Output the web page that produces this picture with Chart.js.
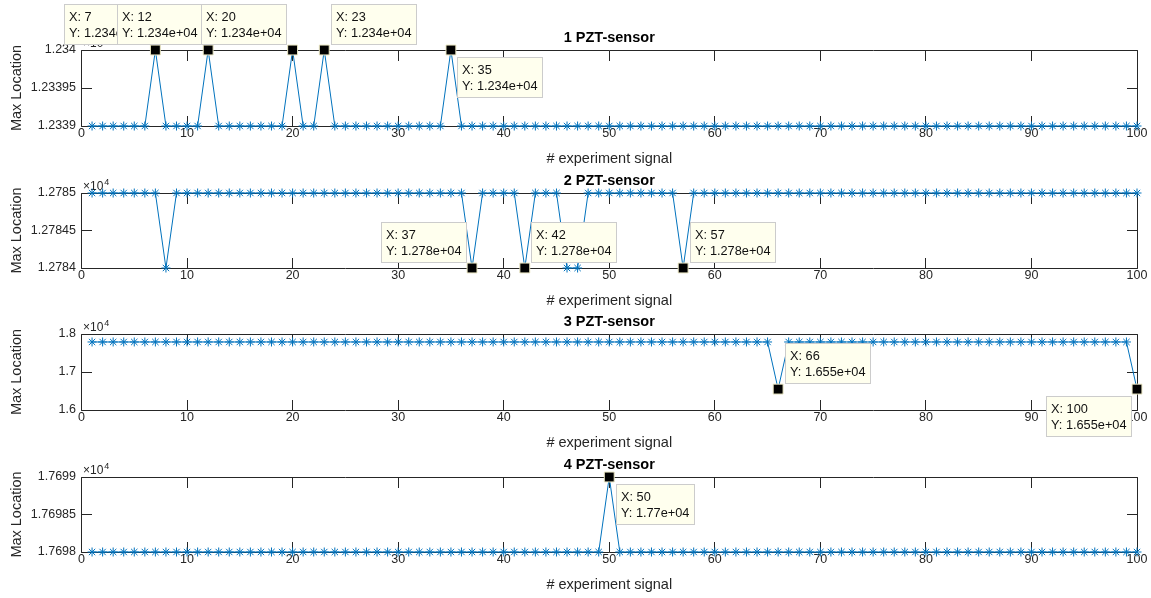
<!DOCTYPE html>
<html>
<head>
<meta charset="utf-8">
<title>PZT-sensor max location</title>
<script src="https://cdn.jsdelivr.net/npm/chart.js@4.4.1/dist/chart.umd.min.js"></script>
<style>
  html, body { margin: 0; padding: 0; background: #ffffff; }
  #fig { position: relative; width: 1151px; height: 598px; overflow: hidden; }
  #fig canvas { position: absolute; left: 0; top: 0; }
</style>
</head>
<body>
<div id="fig">
  <canvas id="s1" width="1151" height="598"></canvas>
  <canvas id="s2" width="1151" height="598"></canvas>
  <canvas id="s3" width="1151" height="598"></canvas>
  <canvas id="s4" width="1151" height="598"></canvas>
</div>
<script>
// ---- data -------------------------------------------------------------
const experiment = [
  1, 2, 3, 4, 5, 6, 7, 8, 9, 10,
  11, 12, 13, 14, 15, 16, 17, 18, 19, 20,
  21, 22, 23, 24, 25, 26, 27, 28, 29, 30,
  31, 32, 33, 34, 35, 36, 37, 38, 39, 40,
  41, 42, 43, 44, 45, 46, 47, 48, 49, 50,
  51, 52, 53, 54, 55, 56, 57, 58, 59, 60,
  61, 62, 63, 64, 65, 66, 67, 68, 69, 70,
  71, 72, 73, 74, 75, 76, 77, 78, 79, 80,
  81, 82, 83, 84, 85, 86, 87, 88, 89, 90,
  91, 92, 93, 94, 95, 96, 97, 98, 99, 100
];

const sensor1 = [
  12339, 12339, 12339, 12339, 12339, 12339, 12340, 12339, 12339, 12339,
  12339, 12340, 12339, 12339, 12339, 12339, 12339, 12339, 12339, 12340,
  12339, 12339, 12340, 12339, 12339, 12339, 12339, 12339, 12339, 12339,
  12339, 12339, 12339, 12339, 12340, 12339, 12339, 12339, 12339, 12339,
  12339, 12339, 12339, 12339, 12339, 12339, 12339, 12339, 12339, 12339,
  12339, 12339, 12339, 12339, 12339, 12339, 12339, 12339, 12339, 12339,
  12339, 12339, 12339, 12339, 12339, 12339, 12339, 12339, 12339, 12339,
  12339, 12339, 12339, 12339, 12339, 12339, 12339, 12339, 12339, 12339,
  12339, 12339, 12339, 12339, 12339, 12339, 12339, 12339, 12339, 12339,
  12339, 12339, 12339, 12339, 12339, 12339, 12339, 12339, 12339, 12339
];

const sensor2 = [
  12785, 12785, 12785, 12785, 12785, 12785, 12785, 12784, 12785, 12785,
  12785, 12785, 12785, 12785, 12785, 12785, 12785, 12785, 12785, 12785,
  12785, 12785, 12785, 12785, 12785, 12785, 12785, 12785, 12785, 12785,
  12785, 12785, 12785, 12785, 12785, 12785, 12784, 12785, 12785, 12785,
  12785, 12784, 12785, 12785, 12785, 12784, 12784, 12785, 12785, 12785,
  12785, 12785, 12785, 12785, 12785, 12785, 12784, 12785, 12785, 12785,
  12785, 12785, 12785, 12785, 12785, 12785, 12785, 12785, 12785, 12785,
  12785, 12785, 12785, 12785, 12785, 12785, 12785, 12785, 12785, 12785,
  12785, 12785, 12785, 12785, 12785, 12785, 12785, 12785, 12785, 12785,
  12785, 12785, 12785, 12785, 12785, 12785, 12785, 12785, 12785, 12785
];

const sensor3 = [
  17790, 17790, 17790, 17790, 17790, 17790, 17790, 17790, 17790, 17790,
  17790, 17790, 17790, 17790, 17790, 17790, 17790, 17790, 17790, 17790,
  17790, 17790, 17790, 17790, 17790, 17790, 17790, 17790, 17790, 17790,
  17790, 17790, 17790, 17790, 17790, 17790, 17790, 17790, 17790, 17790,
  17790, 17790, 17790, 17790, 17790, 17790, 17790, 17790, 17790, 17790,
  17790, 17790, 17790, 17790, 17790, 17790, 17790, 17790, 17790, 17790,
  17790, 17790, 17790, 17790, 17790, 16550, 17790, 17790, 17790, 17790,
  17790, 17790, 17790, 17790, 17790, 17790, 17790, 17790, 17790, 17790,
  17790, 17790, 17790, 17790, 17790, 17790, 17790, 17790, 17790, 17790,
  17790, 17790, 17790, 17790, 17790, 17790, 17790, 17790, 17790, 16550
];

const sensor4 = [
  17698, 17698, 17698, 17698, 17698, 17698, 17698, 17698, 17698, 17698,
  17698, 17698, 17698, 17698, 17698, 17698, 17698, 17698, 17698, 17698,
  17698, 17698, 17698, 17698, 17698, 17698, 17698, 17698, 17698, 17698,
  17698, 17698, 17698, 17698, 17698, 17698, 17698, 17698, 17698, 17698,
  17698, 17698, 17698, 17698, 17698, 17698, 17698, 17698, 17698, 17699,
  17698, 17698, 17698, 17698, 17698, 17698, 17698, 17698, 17698, 17698,
  17698, 17698, 17698, 17698, 17698, 17698, 17698, 17698, 17698, 17698,
  17698, 17698, 17698, 17698, 17698, 17698, 17698, 17698, 17698, 17698,
  17698, 17698, 17698, 17698, 17698, 17698, 17698, 17698, 17698, 17698,
  17698, 17698, 17698, 17698, 17698, 17698, 17698, 17698, 17698, 17698
];

const xTicks = [0, 10, 20, 30, 40, 50, 60, 70, 80, 90, 100];

const yTicks1 = [12339, 12339.5, 12340];
const yLabels1 = ['1.2339', '1.23395', '1.234'];
const yTicks2 = [12784, 12784.5, 12785];
const yLabels2 = ['1.2784', '1.27845', '1.2785'];
const yTicks3 = [16000, 17000, 18000];
const yLabels3 = ['1.6', '1.7', '1.8'];
const yTicks4 = [17698, 17698.5, 17699];
const yLabels4 = ['1.7698', '1.76985', '1.7699'];

const titles = ['1 PZT-sensor', '2 PZT-sensor', '3 PZT-sensor', '4 PZT-sensor'];
const xTitle = '# experiment signal';
const yTitle = 'Max Location';

// experiments marked with a data tip in each panel
const tips1 = [7, 12, 20, 23, 35];
const tips2 = [37, 42, 57];
const tips3 = [66, 100];
const tips4 = [50];

// which side of its marker each data tip box sits on
const tipSide1 = ['nw', 'nw', 'nw', 'ne', 'se'];
const tipSide2 = ['nw', 'ne', 'ne'];
const tipSide3 = ['ne', 'sw'];
const tipSide4 = ['se'];

// ---- styling ----------------------------------------------------------
const FONT = "'Liberation Sans', Arial, Helvetica, sans-serif";
const BLUE = '#0072BD';
const AXIS = '#262626';
const TICK_LEN = 10.5;
const X_AXIS_H = 42;
const Y_AXIS_W = 81.5;
const RIGHT_PAD = 14;
const TITLE_SIZE = 14.5;
const TITLE_BOX = TITLE_SIZE * 1.2 + 3;

// MATLAB-like %.4g with a two-digit exponent
function fmtTip(v) {
  const s = v.toPrecision(4);
  if (s.indexOf('e') < 0) return s.replace(/\.?0+$/, '');
  const parts = s.split('e');
  const mant = parts[0].indexOf('.') >= 0 ? parts[0].replace(/\.?0+$/, '') : parts[0];
  const exp = parseInt(parts[1], 10);
  const sign = exp < 0 ? '-' : '+';
  const mag = String(Math.abs(exp)).padStart(2, '0');
  return mant + 'e' + sign + mag;
}

// Box, inward tick marks, exponent label and data tips
const matlabAxes = {
  id: 'matlabAxes',
  beforeDatasetsDraw(chart, args, opts) {
    const ctx = chart.ctx;
    const ca = chart.chartArea;
    const xs = chart.scales.x, ys = chart.scales.y;
    const L = Math.floor(ca.left) + 0.5;
    const R = Math.floor(ca.right) + 0.5;
    const T = Math.floor(ca.top) + 0.5;
    const B = Math.floor(ca.bottom) + 0.5;
    ctx.save();
    ctx.strokeStyle = AXIS;
    ctx.lineWidth = 1;
    ctx.beginPath();
    ctx.rect(L, T, R - L, B - T);
    xs.ticks.forEach(t => {
      const px = Math.floor(xs.getPixelForValue(t.value)) + 0.5;
      ctx.moveTo(px, B); ctx.lineTo(px, B - TICK_LEN);
      ctx.moveTo(px, T); ctx.lineTo(px, T + TICK_LEN);
    });
    ys.ticks.forEach(t => {
      const py = Math.floor(ys.getPixelForValue(t.value)) + 0.5;
      ctx.moveTo(L, py); ctx.lineTo(L + TICK_LEN, py);
      ctx.moveTo(R, py); ctx.lineTo(R - TICK_LEN, py);
    });
    ctx.stroke();

    // exponent of the y tick labels
    ctx.fillStyle = AXIS;
    ctx.textBaseline = 'alphabetic';
    ctx.textAlign = 'left';
    ctx.font = '12px ' + FONT;
    const base = '\u00D710';
    ctx.fillText(base, ca.left + 1.5, ca.top - 3.5);
    const w = ctx.measureText(base).width;
    ctx.font = '9px ' + FONT;
    ctx.fillText(opts.exponent, ca.left + 1.5 + w + 1, ca.top - 8.5);
    ctx.restore();
  },
  afterDraw(chart, args, opts) {
    const ctx = chart.ctx;
    const xs = chart.scales.x, ys = chart.scales.y;
    ctx.save();
    ctx.font = '12.75px ' + FONT;
    ctx.textBaseline = 'middle';
    ctx.textAlign = 'left';
    opts.tips.forEach((xv, k) => {
      const yv = opts.values[opts.xs.indexOf(xv)];
      const px = xs.getPixelForValue(xv);
      const py = ys.getPixelForValue(yv);
      const l1 = 'X: ' + xv;
      const l2 = 'Y: ' + fmtTip(yv);
      const w = Math.round(Math.max(ctx.measureText(l1).width, ctx.measureText(l2).width) + 9.5);
      const h = 40;
      const off = 6.5;
      const side = opts.sides[k];
      let left = side.indexOf('w') >= 0 ? px - off - w : px + off;
      let top = side.indexOf('n') >= 0 ? py - off - h : py + off;
      left = Math.round(left) + 0.5;
      top = Math.round(top) + 0.5;
      ctx.fillStyle = '#ffffee';
      ctx.strokeStyle = '#cccccc';
      ctx.lineWidth = 1;
      ctx.fillRect(left, top, w, h);
      ctx.strokeRect(left, top, w, h);
      ctx.fillStyle = '#111111';
      ctx.fillText(l1, left + 4.5, top + 13);
      ctx.fillText(l2, left + 4.5, top + 29);
    });
    ctx.restore();
  }
};

const axTop = [50, 193, 334, 477];
const axBottom = [126, 268, 410, 552];

function makePanel(id, k, values, yTicks, yLabels, tips, sides) {
  const line = experiment.map((x, i) => ({ x: x, y: values[i] }));
  const marks = tips.map(x => ({ x: x, y: values[experiment.indexOf(x)] }));
  return new Chart(document.getElementById(id), {
    type: 'scatter',
    data: {
      datasets: [
        {
          data: marks,
          showLine: false,
          pointStyle: 'rect',
          pointRadius: 7,
          pointBackgroundColor: '#000000',
          pointBorderColor: '#ece8c4',
          pointBorderWidth: 1,
          clip: false,
          order: 0
        },
        {
          data: line,
          showLine: true,
          borderColor: BLUE,
          borderWidth: 1,
          tension: 0,
          pointStyle: 'star',
          pointRadius: 4.5,
          pointBorderColor: BLUE,
          pointBackgroundColor: BLUE,
          pointBorderWidth: 1,
          clip: false,
          order: 1
        }
      ]
    },
    options: {
      responsive: false,
      animation: false,
      events: [],
      layout: {
        padding: {
          left: 0,
          right: RIGHT_PAD,
          top: axTop[k] - TITLE_BOX,
          bottom: 598 - axBottom[k] - X_AXIS_H
        }
      },
      plugins: {
        legend: { display: false },
        tooltip: { enabled: false },
        title: {
          display: true,
          text: titles[k],
          fullSize: false,
          color: '#000000',
          font: { family: FONT, size: TITLE_SIZE, weight: 'bold' },
          padding: { top: 0, bottom: 3 }
        },
        matlabAxes: {
          tips: tips,
          sides: sides,
          values: values,
          xs: experiment,
          exponent: '4'
        }
      },
      scales: {
        x: {
          type: 'linear',
          min: 0,
          max: 100,
          afterBuildTicks: s => { s.ticks = xTicks.map(v => ({ value: v })); },
          afterFit: s => { s.height = X_AXIS_H; },
          grid: { display: false, drawTicks: false },
          border: { display: false },
          ticks: {
            padding: 0,
            color: AXIS,
            maxRotation: 0,
            autoSkip: false,
            font: { family: FONT, size: 12.5 },
            callback: v => String(v)
          },
          title: {
            display: true,
            text: xTitle,
            color: AXIS,
            font: { family: FONT, size: 14.5 },
            padding: { top: 0, bottom: 0 }
          }
        },
        y: {
          type: 'linear',
          min: yTicks[0],
          max: yTicks[yTicks.length - 1],
          afterBuildTicks: s => { s.ticks = yTicks.map(v => ({ value: v })); },
          afterFit: s => { s.width = Y_AXIS_W; },
          grid: { display: false, drawTicks: false },
          border: { display: false },
          ticks: {
            padding: 5.5,
            color: AXIS,
            autoSkip: false,
            font: { family: FONT, size: 12.5 },
            callback: v => yLabels[yTicks.indexOf(v)]
          },
          title: {
            display: true,
            text: yTitle,
            color: AXIS,
            font: { family: FONT, size: 14.5 },
            padding: { top: 8.5, bottom: 0 }
          }
        }
      }
    },
    plugins: [matlabAxes]
  });
}

makePanel('s1', 0, sensor1, yTicks1, yLabels1, tips1, tipSide1);
makePanel('s2', 1, sensor2, yTicks2, yLabels2, tips2, tipSide2);
makePanel('s3', 2, sensor3, yTicks3, yLabels3, tips3, tipSide3);
makePanel('s4', 3, sensor4, yTicks4, yLabels4, tips4, tipSide4);
</script>
</body>
</html>
